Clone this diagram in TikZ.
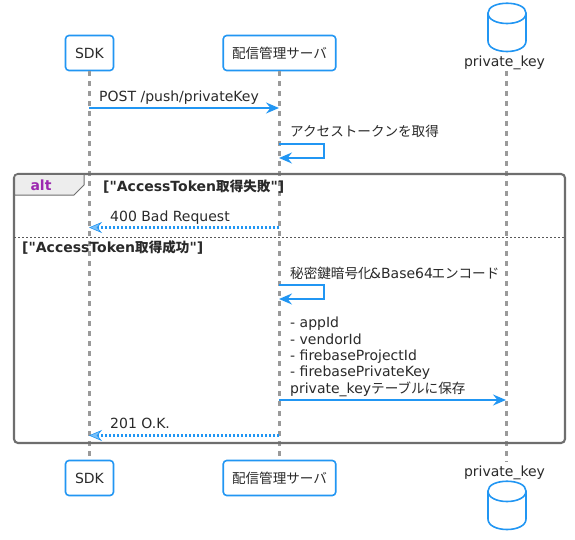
\documentclass[tikz,border=0pt]{standalone}
\usepackage{fontspec}
\usetikzlibrary{arrows.meta}
\setmainfont[Ligatures=TeXOff]{DejaVu Sans}
\newfontfamily\cjk[Scale=0.97]{Noto Sans CJK JP}
\definecolor{blu}{HTML}{2196F3}
\definecolor{txt}{HTML}{2A2A2A}
\definecolor{lifeg}{HTML}{9A9A9A}
\definecolor{frameg}{HTML}{6E6E6E}
\definecolor{purp}{HTML}{9C27B0}
\newcommand{\fs}{\fontsize{14}{18}\selectfont}
\newcommand{\fb}{\fontsize{14}{18}\selectfont\bfseries}
\tikzset{
 x=1pt,y=-1pt,
 part/.style={draw=blu,line width=1.6pt,fill=white,rounded corners=3.5pt,minimum height=35pt,inner sep=0pt,text=txt,font=\fs},
 lifel/.style={draw=lifeg,line width=2.1pt,dash pattern=on 5pt off 5pt},
 msg/.style={draw=blu,line width=2pt,-{Stealth[length=13pt,width=11pt,inset=4.5pt]}},
 ret/.style={draw=blu,line width=2.1pt,dash pattern=on 2pt off 2pt,-{Stealth[length=13pt,width=11pt,inset=4.5pt,fill=blu!60,line width=.6pt]}},
 lab/.style={anchor=base west,inner sep=0pt,text=txt,font=\fs},
 dbl/.style={anchor=base,inner sep=0pt,text=txt,font=\fs},
 cyl/.style={draw=blu,line width=1.6pt,fill=white},
}
\begin{document}
\begin{tikzpicture}
\useasboundingbox (0,0) rectangle (575,540);
\fill[white] (0,0) rectangle (575,540);
% participants
\node[part,minimum width=48pt] (sdkT) at (89.5,53) {SDK};
\node[part,minimum width=112.5pt] (srvT) at (279.5,53) {\cjk 配信管理サーバ};
\node[part,minimum width=48pt] (sdkB) at (89.5,478) {SDK};
\node[part,minimum width=112.5pt] (srvB) at (279.5,478) {\cjk 配信管理サーバ};
\node[dbl] (dbT) at (504.5,66.7) {private\_key};
\node[dbl] (dbB) at (504.5,476.7) {private\_key};
\coordinate (dbTl) at (506.5,71);
\coordinate (dbBl) at (506.5,462);
% lifelines
\draw[lifel] (sdkT.south) -- (sdkB.north);
\draw[lifel] (srvT.south) -- (srvB.north);
\draw[lifel] (dbTl) -- (dbBl);
% cylinders
\draw[cyl] (488,13) .. controls (488,0) and (526,0) .. (526,13) -- (526,41) .. controls (526,55) and (488,55) .. (488,41) -- cycle;
\draw[cyl] (488,13) .. controls (488,27) and (526,27) .. (526,13);
\draw[cyl] (488,491) .. controls (488,478) and (526,478) .. (526,491) -- (526,519) .. controls (526,533) and (488,533) .. (488,519) -- cycle;
\draw[cyl] (488,491) .. controls (488,505) and (526,505) .. (526,491);
% frame
\draw[frameg,line width=2.1pt,rounded corners=4pt] (14,174) rectangle (565,443);
\draw[frameg,line width=1pt,fill=black!7] (14.5,195) -- (74,195) -- (84,185) -- (84,174.5) -- (18,174.5) [rounded corners=3pt] -- (14.5,174.5) [sharp corners] -- cycle;
\node[anchor=base,inner sep=0pt,text=purp,font=\fb] (altL) at (41,190) {alt};
\node[lab,font=\fb] (g1) at (103,191) {["AccessToken{\cjk 取得失敗}"]};
\node[lab,font=\fb] (g2) at (22,252.7) {["AccessToken{\cjk 取得成功}"]};
\coordinate (sepL) at (14,237.5);
\coordinate (sepR) at (565,237.5);
\draw[frameg!80!black,line width=.9pt,dash pattern=on 2pt off 2pt] (sepL) -- (sepR);
% messages
\coordinate (s1) at (89,108); \coordinate (t1) at (279,108);
\draw[msg] (s1) -- (t1);
\node[lab] (m1) at (99,102) {POST /push/privateKey};
\coordinate (s2) at (279,144); \coordinate (c2a) at (324,144); \coordinate (c2b) at (324,158); \coordinate (t2) at (279,158);
\draw[msg] (s2) -- (c2a) -- (c2b) -- (t2);
\node[lab] (m2) at (290,137) {\cjk アクセストークンを取得};
\coordinate (s3) at (279,227.5); \coordinate (t3) at (89,227.5);
\draw[ret] (s3) -- (t3);
\node[lab] (m3) at (110,221) {400 Bad Request};
\coordinate (s4) at (279,285); \coordinate (c4a) at (324,285); \coordinate (c4b) at (324,299); \coordinate (t4) at (279,299);
\draw[msg] (s4) -- (c4a) -- (c4b) -- (t4);
\node[lab] (m4) at (290,278) {{\cjk 秘密鍵暗号化}\kern-1.5pt\&Base64\kern-1.5pt{\cjk エンコード}};
\coordinate (s5) at (279,400); \coordinate (t5) at (506,400);
\draw[msg] (s5) -- (t5);
\node[lab] (m5a) at (290,327.7) {- appId};
\node[lab] (m5b) at (290,344) {- vendorId};
\node[lab] (m5c) at (290,360.3) {- firebaseProjectId};
\node[lab] (m5d) at (290,376.7) {- firebasePrivateKey};
\node[lab] (m5e) at (290,393.2) {private\_key{\cjk テーブルに保存}};
\coordinate (s6) at (279,435.5); \coordinate (t6) at (89,435.5);
\draw[ret] (s6) -- (t6);
\node[lab] (m6) at (110,428.5) {201 O.K.};
\end{tikzpicture}
\end{document}
